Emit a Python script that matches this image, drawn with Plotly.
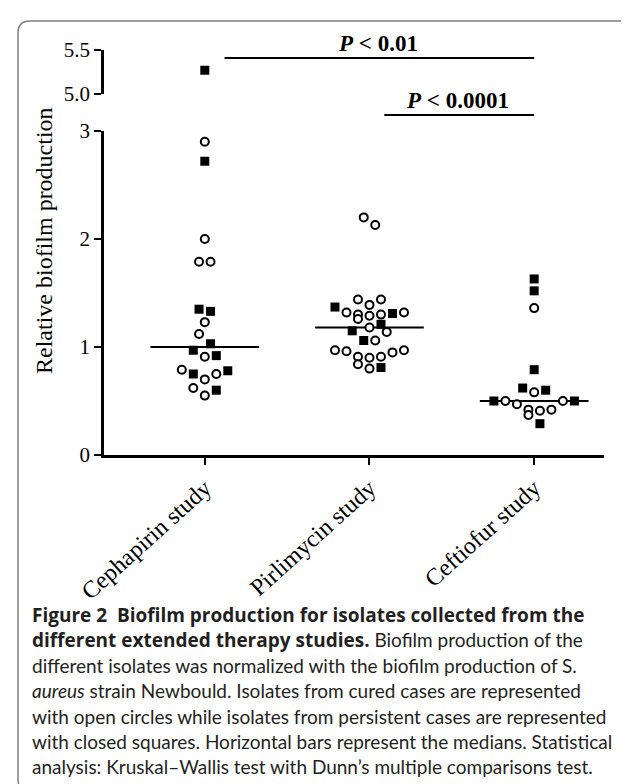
import numpy as np
import plotly.graph_objects as go

# ---------------- data ----------------
categories = ["Cephapirin study", "Pirlimycin study", "Ceftiofur study"]

cephapirin_cured = [2.90, 2.00, 1.79, 1.79, 1.23, 1.12, 0.91, 0.70, 0.75, 0.79, 0.62, 0.55]
cephapirin_persistent = [5.27, 2.72, 1.35, 1.33, 1.03, 0.97, 0.92, 0.78, 0.75, 0.60]

pirlimycin_cured = [2.13, 2.20, 1.44, 1.44, 1.39, 1.32, 1.29, 1.30, 1.32, 1.30, 1.26, 1.18,
                    1.14, 1.06, 0.97, 0.96, 0.95, 0.97, 0.91, 0.90, 0.91, 0.84, 0.80]
pirlimycin_persistent = [1.37, 1.31, 1.21, 1.15, 1.06, 0.81]

ceftiofur_cured = [1.36, 0.58, 0.50, 0.47, 0.50, 0.42, 0.41, 0.42, 0.37]
ceftiofur_persistent = [1.63, 1.52, 0.79, 0.62, 0.60, 0.50, 0.50, 0.29]

lower_ticks = [0, 1, 2, 3]
upper_ticks = [5.0, 5.5]
upper_tick_labels = ["5.0", "5.5"]

p_labels = ["P < 0.01", "P < 0.0001"]

BOLD = "<b><span style='font-family:Open Sans'>{}</span></b>"
caption_lines = [
    BOLD.format("Figure 2  Biofilm production for isolates collected from the"),
    BOLD.format("different extended therapy studies.") + " Biofilm production of the",
    "different isolates was normalized with the biofilm production of S.",
    "<i>aureus</i> strain Newbould. Isolates from cured cases are represented",
    "with open circles while isolates from persistent cases are represented",
    "with closed squares. Horizontal bars represent the medians. Statistical",
    "analysis: Kruskal\u2013Wallis test with Dunn\u2019s multiple comparisons test.",
]

groups = [
    (cephapirin_cured, cephapirin_persistent),
    (pirlimycin_cured, pirlimycin_persistent),
    (ceftiofur_cured, ceftiofur_persistent),
]

# ---------------- geometry ----------------
W, H = 629, 784
ML, MR, MT, MB = 96, 33, 42, 337
PW = W - ML - MR
PH = H - MT - MB
Y0_PX = H - MB  # pixel row of value 0
Y3_PX = 123     # pixel row of value 3
Y50_PX = 86     # pixel row of value 5.0


def pxx(x):
    return (x - ML) / PW


def pxy(y):
    return (Y0_PX - y) / PH


XR = [-0.612, 2.424]
UNIT_X = PW / (XR[1] - XR[0])
UNIT_Y = (Y0_PX - Y3_PX) / 3.0
BREAK = 4.0


def swarm(values, bin_h=10.0 / UNIT_Y, d=11.5 / UNIT_X):
    values = np.asarray(values, dtype=float)
    order = np.argsort(values, kind="stable")
    offsets = np.zeros(len(values))
    rows, cur, start = [], [], None
    for i in order:
        v = values[i]
        if start is None or v - start >= bin_h:
            if cur:
                rows.append(cur)
            cur, start = [i], v
        else:
            cur.append(i)
    if cur:
        rows.append(cur)
    for row in rows:
        n = len(row)
        slots = [(k - (n - 1) / 2) * d for k in range(n)]
        slots.sort(key=lambda s: (abs(s), -s))
        for idx, s in zip(row, slots):
            offsets[idx] = s
    return offsets


fig = go.Figure()

# median bars (below markers)
for gi, (cured, pers) in enumerate(groups):
    allv = np.array(cured + pers, dtype=float)
    med = float(np.median(allv))
    fig.add_trace(go.Scatter(x=[gi - 0.33, gi + 0.33], y=[med, med], mode="lines",
                             line=dict(color="black", width=2), xaxis="x", yaxis="y",
                             hoverinfo="skip"))

for gi, (cured, pers) in enumerate(groups):
    allv = np.array(cured + pers, dtype=float)
    offs = swarm(allv)
    kinds = ["c"] * len(cured) + ["p"] * len(pers)
    for kind in ("c", "p"):
        for axis_name, mask_fn in (("y", lambda v: v < BREAK), ("y2", lambda v: v >= BREAK)):
            xs = [gi + offs[i] for i in range(len(allv)) if kinds[i] == kind and mask_fn(allv[i])]
            ys = [allv[i] for i in range(len(allv)) if kinds[i] == kind and mask_fn(allv[i])]
            if not xs:
                continue
            if kind == "c":
                marker = dict(symbol="circle", size=8, color="white",
                              line=dict(color="black", width=2))
            else:
                marker = dict(symbol="square", size=9, color="black",
                              line=dict(color="black", width=0))
            fig.add_trace(go.Scatter(x=xs, y=ys, mode="markers", marker=marker,
                                     xaxis="x", yaxis=axis_name))

serif = "Liberation Serif"
axis_common = dict(showline=True, linecolor="black", linewidth=2.5, ticks="outside",
                   ticklen=7, tickwidth=2, tickcolor="black", showgrid=False,
                   zeroline=False, tickfont=dict(family=serif, size=21, color="black"))

fig.update_layout(
    width=W, height=H,
    margin=dict(l=ML, r=MR, t=MT, b=MB, pad=0),
    paper_bgcolor="white", plot_bgcolor="white",
    showlegend=False,
    xaxis=dict(range=XR, tickmode="array", tickvals=[0, 1, 2], ticktext=categories,
               tickangle=-42, anchor="y", showline=True, linecolor="black", linewidth=2.5,
               ticks="outside", ticklen=7, tickwidth=2, tickcolor="black",
               showgrid=False, zeroline=False,
               tickfont=dict(family=serif, size=24, color="black")),
    yaxis=dict(range=[0, 3], domain=[0, pxy(Y3_PX)], tickmode="array", tickvals=lower_ticks,
               anchor="x", **axis_common),
    yaxis2=dict(range=[5.0, 5.5], domain=[pxy(Y50_PX), 1], tickmode="array",
                tickvals=upper_ticks, ticktext=upper_tick_labels, anchor="x", **axis_common),
)

# y axis title
fig.add_annotation(text="Relative biofilm production", xref="paper", yref="paper",
                   x=pxx(36), y=pxy(233), textangle=-90, showarrow=False,
                   font=dict(family=serif, size=24, color="black"),
                   xanchor="center", yanchor="middle")

# significance bars
fig.add_shape(type="line", xref="x", yref="paper", x0=0.12, x1=2.0, y0=pxy(50), y1=pxy(50),
              line=dict(color="black", width=2))
fig.add_shape(type="line", xref="x", yref="paper", x0=1.09, x1=2.0, y0=pxy(107), y1=pxy(107),
              line=dict(color="black", width=2))
for lab, xc, yc in ((p_labels[0], 370, 36), (p_labels[1], 449, 93)):
    head, tail = lab.split(" ", 1)
    txt = "<b><i>" + head + "</i> " + tail.replace("<", "&lt;") + "</b>"
    fig.add_annotation(text=txt, xref="paper", yref="paper", x=pxx(xc), y=pxy(yc),
                       showarrow=False, xanchor="center", yanchor="middle",
                       font=dict(family=serif, size=23, color="black"))

# caption
cap_y0, cap_dy = 607, 25.3
for i, line in enumerate(caption_lines):
    fig.add_annotation(text=line, xref="paper", yref="paper", x=pxx(22),
                       y=pxy(cap_y0 + i * cap_dy), showarrow=False, xanchor="left",
                       yanchor="middle", align="left",
                       font=dict(family="Lato", size=19, color="#231f20"))

# frame (rounded, open to the right/bottom edge of the image)
L, T, R, B, rr = 10, 13, 640, 783, 12
path = (f"M {pxx(R)},{pxy(T)} L {pxx(L + rr)},{pxy(T)} "
        f"Q {pxx(L)},{pxy(T)} {pxx(L)},{pxy(T + rr)} "
        f"L {pxx(L)},{pxy(B - rr)} Q {pxx(L)},{pxy(B)} {pxx(L + rr)},{pxy(B)} "
        f"L {pxx(R)},{pxy(B)}")
fig.add_shape(type="path", xref="paper", yref="paper", path=path,
              line=dict(color="#7f7f7f", width=1.5))

fig.write_html("out.html")
